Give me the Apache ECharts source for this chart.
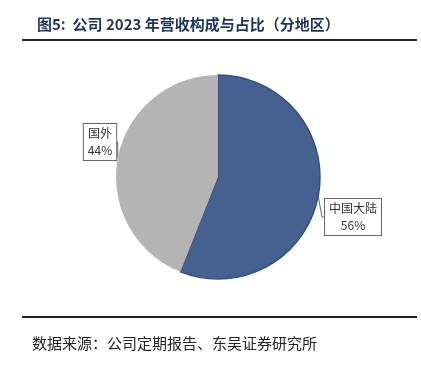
<!DOCTYPE html>
<html>
<head>
<meta charset="utf-8">
<script src="https://cdn.jsdelivr.net/npm/echarts@6/dist/echarts.min.js"></script>
<style>
html,body{margin:0;padding:0;background:#fff;}
#main{width:421px;height:370px;}
</style>
</head>
<body>
<div id="main"></div>
<script>
// 分地区营收构成
var regions = ['中国大陆', '国外'];
var shares = [56, 44];
var sliceColors = ['#44618f', '#b4b4b4'];
// 标签框中心位置
var labelPos = [[353, 217], [100, 142]];

var myChart = echarts.init(document.getElementById('main'));
var pieData = [];
for (var i = 0; i < regions.length; i++) {
    pieData.push({
        name: regions[i],
        value: shares[i],
        itemStyle: {
            color: sliceColors[i],
            borderColor: i == 0 ? '#34507c' : '#b4b4b4',
            borderWidth: i == 0 ? 1.5 : 0
        }
    });
}
var option = {
    backgroundColor: '#fff',
    animation: false,
    title: {
        text: '图5:  公司 2023 年营收构成与占比（分地区）',
        left: 32,
        top: 12,
        textStyle: {
            color: '#1f3556',
            fontSize: 15,
            fontWeight: 'bold',
            fontFamily: '"Noto Sans CJK SC", serif'
        }
    },
    graphic: [
        {type: 'rect', shape: {x: 22, y: 39, width: 395, height: 2}, style: {fill: '#222'}},
        {type: 'rect', shape: {x: 22, y: 316, width: 395, height: 2}, style: {fill: '#222'}},
        {
            type: 'text', left: 32, top: 336,
            style: {
                text: '数据来源：公司定期报告、东吴证券研究所',
                fill: '#222',
                font: '15px "Noto Sans CJK SC", serif'
            }
        }
    ],
    series: [
        {
            type: 'pie',
            center: [218, 177],
            radius: [0, 102],
            startAngle: 90,
            clockwise: true,
            data: pieData,
            label: {
                show: true,
                formatter: '{b}\n{d}%',
                color: '#333',
                fontSize: 12,
                lineHeight: 17,
                fontFamily: '"Noto Sans CJK SC", serif',
                backgroundColor: '#fff',
                borderColor: '#666',
                borderWidth: 1,
                padding: [1, 4, 1, 4],
                align: 'center'
            },
            labelLine: {
                show: true,
                length: 4,
                length2: 2,
                lineStyle: {color: '#666', width: 1}
            },
            labelLayout: function (params) {
                var p = labelPos[params.dataIndex];
                return {
                    x: p[0],
                    y: p[1],
                    align: 'center',
                    verticalAlign: 'middle'
                };
            }
        }
    ]
};
myChart.setOption(option);
</script>
</body>
</html>
